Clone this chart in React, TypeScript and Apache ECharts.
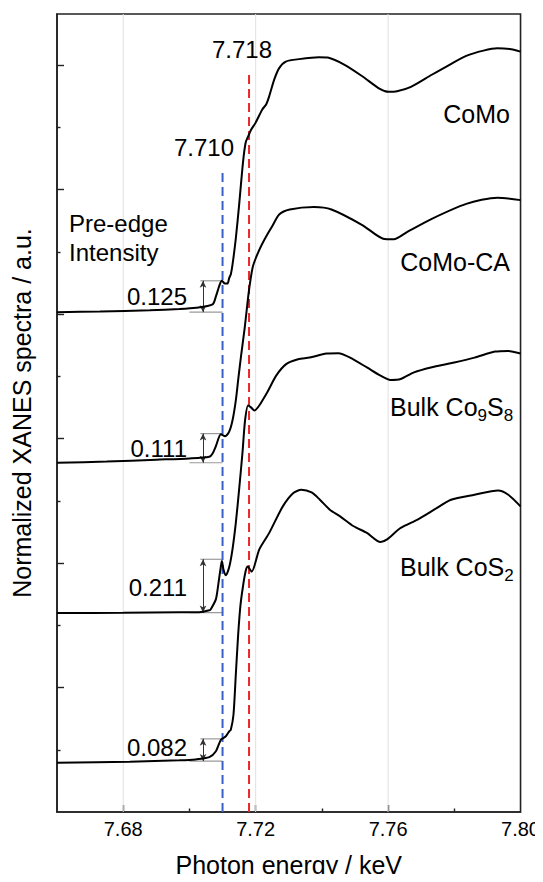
import React, { useEffect, useRef } from "react";
import * as echarts from "echarts";

// ---------- data ----------
const COMO_E = [7.660,7.673,7.688,7.697,7.702,7.7070,7.7080,7.7092,7.7098,7.7107,7.7115,7.7120,7.7125,7.7130,7.7140,7.7150,7.7162,7.7170,7.7177,7.7185,7.7200,7.7220,7.7232,7.7241,7.7256,7.7271,7.7291,7.7331,7.7391,7.7418,7.7470,7.7522,7.7575,7.7601,7.7627,7.7669,7.7732,7.7784,7.7836,7.7888,7.7930,7.7972,7.8000];
const COMO_I = [8.03,8.04,8.06,8.08,8.10,8.155,8.285,8.48,8.534,8.49,8.49,8.577,8.64,8.79,9.21,9.75,10.45,10.76,10.85,10.95,11.075,11.287,11.37,11.50,11.765,11.95,12.056,12.095,12.127,12.12,12.00,11.82,11.617,11.569,11.578,11.649,11.844,12.0,12.147,12.232,12.27,12.254,12.216];

const COMOCA_E = [7.660,7.675,7.690,7.700,7.7060,7.7070,7.7080,7.7095,7.7108,7.7120,7.7130,7.7140,7.7148,7.7156,7.7167,7.7177,7.7183,7.7192,7.7210,7.7232,7.7250,7.7271,7.7303,7.7376,7.7429,7.7522,7.7585,7.7617,7.7658,7.7732,7.7836,7.7930,7.8000];
const COMOCA_I = [5.611,5.63,5.66,5.68,5.707,5.76,5.88,6.069,6.037,6.11,6.29,6.61,6.98,7.33,7.78,8.258,8.50,8.77,9.02,9.25,9.41,9.60,9.68,9.72,9.68,9.43,9.21,9.20,9.32,9.53,9.77,9.87,9.83];

const CO9S8_E = [7.660,7.680,7.697,7.7029,7.7060,7.7065,7.7080,7.7088,7.7095,7.7098,7.7103,7.7110,7.7120,7.7130,7.7140,7.7150,7.7160,7.7168,7.7177,7.7186,7.7196,7.7232,7.7262,7.7292,7.7328,7.7363,7.7414,7.7450,7.7485,7.7536,7.7577,7.7607,7.7638,7.7678,7.7729,7.7800,7.7861,7.7923,7.7963,7.8000];
const CO9S8_I = [3.196,3.20,3.21,3.209,3.24,3.263,3.42,3.69,3.95,4.033,3.89,3.805,3.93,4.22,4.64,5.18,5.76,6.29,6.53,6.50,6.45,6.716,7.01,7.195,7.274,7.30,7.365,7.37,7.30,7.142,7.01,6.94,6.955,7.062,7.142,7.222,7.30,7.397,7.408,7.365];

const COS2_E = [7.660,7.682,7.697,7.7019,7.7060,7.7080,7.7095,7.7110,7.7120,7.7125,7.7133,7.7140,7.7147,7.7154,7.7162,7.7170,7.7176,7.7188,7.7211,7.7241,7.7282,7.7313,7.7338,7.7369,7.7394,7.7424,7.7455,7.7496,7.7536,7.7577,7.7597,7.7638,7.7689,7.7739,7.7790,7.7861,7.7932,7.7963,7.8000];
const COS2_I = [0.792,0.808,0.83,0.845,0.882,0.977,1.16,1.216,1.296,1.323,1.562,2.20,2.838,3.316,3.635,3.874,3.942,3.86,4.22,4.484,4.91,5.122,5.176,5.133,5.017,4.857,4.75,4.591,4.484,4.336,4.379,4.564,4.698,4.857,5.017,5.097,5.165,5.097,4.91];

const PRE_EDGE_LABELS = ["0.125", "0.111", "0.211", "0.082"];
const PRE_EDGE_TOP = [8.534, 6.079, 4.06, 1.175];
const PRE_EDGE_BASE = [8.03, 5.611, 3.204, 0.818];
const ARROW_E = 7.7041;
const REF_TOP_START = 7.7033;
const REF_BASE_START = 7.7;
const REF_END = 7.71;

const EDGE_E = [7.71, 7.718];
const EDGE_TOP = [10.27, 11.92];
const EDGE_LABELS = ["7.710", "7.718"];

const X_MIN = 7.66;
const X_MAX = 7.8;
const Y_MIN = 0;
const Y_MAX = 12.82;
const X_LABELS = [7.68, 7.72, 7.76, 7.8];
const X_MAJOR_TICKS = [7.68, 7.72, 7.76];
const X_MINOR_TICKS = [7.7, 7.74, 7.78];
const GRID_E = [7.68, 7.72, 7.76];
const Y_MAJOR_TICKS = [2, 4, 6, 8, 10, 12];
const Y_MINOR_TICKS = [1, 3, 5, 7, 9, 11];

const FONT = '"Liberation Sans", Arial, Helvetica, sans-serif';

const zip = (e: number[], v: number[]) => e.map((x, i) => [x, v[i]]);

export default function App() {
  const ref = useRef<HTMLDivElement>(null);
  useEffect(() => {
    if (!ref.current) return;
    const chart = echarts.init(ref.current, null, { renderer: "svg" });
    const curves = [
      zip(COMO_E, COMO_I),
      zip(COMOCA_E, COMOCA_I),
      zip(CO9S8_E, CO9S8_I),
      zip(COS2_E, COS2_I),
    ];
    const series: any[] = [];
    GRID_E.forEach((e) =>
      series.push({
        type: "line",
        data: [[e, Y_MIN], [e, Y_MAX]],
        symbol: "none",
        silent: true,
        z: 1,
        lineStyle: { color: "#e0e0e0", width: 1 },
      })
    );
    const edgeColors = ["#3b5fc8", "#e8282a"];
    EDGE_E.forEach((e, i) =>
      series.push({
        type: "line",
        data: [[e, Y_MIN], [e, EDGE_TOP[i]]],
        symbol: "none",
        silent: true,
        z: 3,
        lineStyle: { color: edgeColors[i], width: 2, type: [9, 5] },
      })
    );
    PRE_EDGE_TOP.forEach((top, i) => {
      const base = PRE_EDGE_BASE[i];
      series.push({
        type: "line",
        data: [[REF_BASE_START, base], [REF_END, base]],
        symbol: "none",
        silent: true,
        z: 2,
        lineStyle: { color: "#9a9a9a", width: 1.2 },
      });
      series.push({
        type: "line",
        data: [[REF_TOP_START, top], [REF_END, top]],
        symbol: "none",
        silent: true,
        z: 2,
        lineStyle: { color: "#9a9a9a", width: 1.2 },
        markLine: {
          silent: true,
          symbol: ["arrow", "arrow"],
          symbolSize: [5, 7],
          label: { show: false },
          lineStyle: { color: "#333", width: 1, type: "solid" },
          emphasis: { disabled: true },
          data: [[{ coord: [ARROW_E, base] }, { coord: [ARROW_E, top] }]],
        },
      });
    });
    curves.forEach((d) =>
      series.push({
        type: "line",
        data: d,
        symbol: "none",
        smooth: 0.25,
        silent: true,
        z: 5,
        lineStyle: { color: "#000", width: 2 },
      })
    );

    const txt = (text: string, x: number, y: number, align = "center", size = 24) => ({
      type: "text",
      x,
      y,
      silent: true,
      z: 10,
      style: {
        text,
        fill: "#000",
        fontSize: size,
        fontFamily: FONT,
        align,
        verticalAlign: "middle",
      },
    });
    const rich = {
      a: { fontSize: 25, fontFamily: FONT, color: "#000", verticalAlign: "middle", lineHeight: 30 },
      s: { fontSize: 17, fontFamily: FONT, color: "#000", verticalAlign: "middle", lineHeight: 17, padding: [17, 0, 0, 0] },
    };
    const preEdgeY = [296, 448, 587, 747];

    const option: any = {
      animation: false,
      backgroundColor: "#fff",
      grid: { left: 57, right: 21, top: 14, bottom: 64, show: true, borderColor: "#222", borderWidth: 1.6, backgroundColor: "transparent" },
      xAxis: [
        {
          type: "value",
          min: X_MIN,
          max: X_MAX,
          position: "bottom",
          name: "Photon energy / keV",
          nameLocation: "middle",
          nameGap: 40,
          nameTextStyle: { fontSize: 25, fontFamily: FONT, color: "#000" },
          axisLine: { show: true, onZero: false, lineStyle: { color: "#222", width: 1.6 } },
          axisTick: { show: true, inside: true, length: 7, customValues: X_MAJOR_TICKS, lineStyle: { color: "#222", width: 1.4 } },
          axisLabel: { show: true, customValues: X_LABELS, margin: 7, fontSize: 20, fontFamily: FONT, color: "#000", formatter: (v: number) => v.toFixed(2) },
          splitLine: { show: false },
        },
        {
          type: "value",
          min: X_MIN,
          max: X_MAX,
          position: "bottom",
          axisLine: { show: false },
          axisTick: { show: true, inside: true, length: 3.5, customValues: X_MINOR_TICKS, lineStyle: { color: "#222", width: 1.4 } },
          axisLabel: { show: false },
          splitLine: { show: false },
        },
      ],
      yAxis: [
        {
          type: "value",
          min: Y_MIN,
          max: Y_MAX,
          position: "left",
          name: "Normalized XANES spectra / a.u.",
          nameLocation: "middle",
          nameGap: 23,
          nameRotate: 90,
          nameTextStyle: { fontSize: 25, fontFamily: FONT, color: "#000" },
          axisLine: { show: true, onZero: false, lineStyle: { color: "#222", width: 1.6 } },
          axisTick: { show: true, inside: true, length: 7, customValues: Y_MAJOR_TICKS, lineStyle: { color: "#222", width: 1.4 } },
          axisLabel: { show: false },
          splitLine: { show: false },
        },
        {
          type: "value",
          min: Y_MIN,
          max: Y_MAX,
          position: "left",
          axisLine: { show: false },
          axisTick: { show: true, inside: true, length: 3.5, customValues: Y_MINOR_TICKS, lineStyle: { color: "#222", width: 1.4 } },
          axisLabel: { show: false },
          splitLine: { show: false },
        },
      ],
      series,
      graphic: [
        txt(EDGE_LABELS[1], 242, 49),
        txt(EDGE_LABELS[0], 204, 147),
        txt("CoMo", 510, 114, "right", 25),
        txt("CoMo-CA", 510, 262, "right", 25),
        {
          type: "text",
          x: 390,
          y: 407,
          silent: true,
          z: 10,
          style: { text: "{a|Bulk Co}{s|9}{a|S}{s|8}", rich, align: "left", verticalAlign: "middle" },
        },
        {
          type: "text",
          x: 400,
          y: 567,
          silent: true,
          z: 10,
          style: { text: "{a|Bulk CoS}{s|2}", rich, align: "left", verticalAlign: "middle" },
        },
        txt("Pre-edge", 69, 223, "left"),
        txt("Intensity", 69, 252, "left"),
        ...PRE_EDGE_LABELS.map((l, i) => txt(l, 187, preEdgeY[i], "right")),
      ],
    };
    chart.setOption(option);
    return () => chart.dispose();
  }, []);
  return <div ref={ref} style={{ width: 543, height: 882, margin: -8 }} />;
}
